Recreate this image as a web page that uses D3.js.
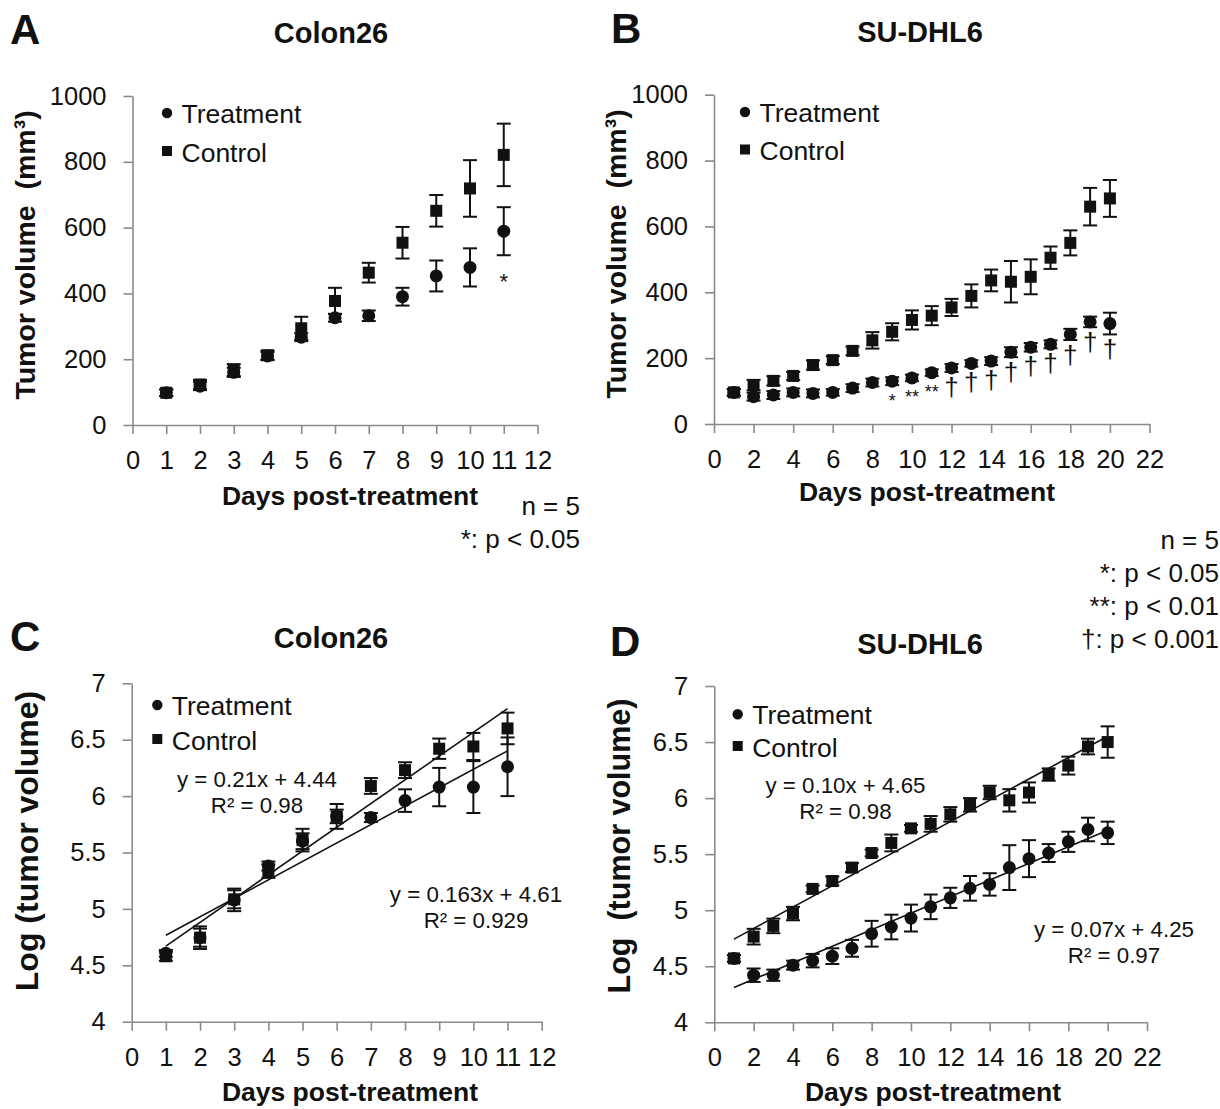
<!DOCTYPE html>
<html><head><meta charset="utf-8">
<script src="https://cdn.jsdelivr.net/npm/d3@7"></script>
<style>
body{margin:0;background:#fff}
svg{display:block}
text{font-family:"Liberation Sans",Arial,Helvetica,sans-serif;fill:#111}
</style>
</head><body>
<svg id="c" width="1220" height="1109"></svg>
<script>
// ---------------- DATA ----------------
// Panel A: Colon26 tumor volume (mm3)
const daysA = [1,2,3,4,5,6,7,8,9,10,11];
const trtA    = [98,118,160,210,267,326,332,390,453,479,589];
const trtAErr = [10,12,14,12,12,12,16,27,47,58,73];
const ctlA    = [98,123,167,212,294,377,463,554,651,719,821];
const ctlAErr = [10,14,18,14,35,40,30,48,48,86,95];
const sigA    = ["","","","","","","","","","","*"];

// Panel B: SU-DHL6 tumor volume (mm3)
const daysB = [1,2,3,4,5,6,7,8,9,10,11,12,13,14,15,16,17,18,19,20];
const trtB    = [96,83,88,96,93,96,109,126,130,140,156,170,184,191,218,233,242,272,310,305];
const trtBErr = [10,12,12,12,12,10,12,12,12,10,10,12,10,12,15,13,12,17,16,33];
const ctlB    = [96,118,131,146,179,194,222,254,280,316,329,354,389,436,432,447,505,550,660,685];
const ctlBErr = [10,16,14,12,14,12,13,25,26,29,29,26,35,33,63,53,34,38,57,56];
const sigB    = ["","","","","","","","","*","**","**","†","†","†","†","†","†","†","†","†"];

// Panel C: Colon26 log(tumor volume)
const daysC = [1,2,3,4,5,6,7,8,9,10,11];
const trtC    = [4.606,4.745,5.08,5.38,5.60,5.82,5.81,5.96,6.08,6.08,6.26];
const trtCErr = [0.03,0.08,0.10,0.04,0.07,0.06,0.04,0.10,0.17,0.23,0.26];
const ctlC    = [4.58,4.745,5.085,5.335,5.61,5.82,6.09,6.23,6.42,6.44,6.60];
const ctlCErr = [0.04,0.10,0.08,0.06,0.10,0.11,0.07,0.07,0.09,0.12,0.14];

// Panel D: SU-DHL6 log(tumor volume)
const daysD = [1,2,3,4,5,6,7,8,9,10,11,12,13,14,15,16,17,18,19,20];
const trtD    = [4.57,4.42,4.42,4.51,4.55,4.59,4.66,4.79,4.85,4.93,5.03,5.11,5.195,5.23,5.38,5.46,5.51,5.61,5.72,5.69];
const trtDErr = [0.03,0.06,0.05,0.04,0.06,0.07,0.075,0.115,0.11,0.12,0.11,0.09,0.11,0.10,0.20,0.165,0.08,0.09,0.105,0.10];
const ctlD    = [4.57,4.764,4.86,4.97,5.19,5.26,5.38,5.51,5.60,5.73,5.77,5.855,5.94,6.05,5.98,6.05,6.21,6.29,6.46,6.50];
const ctlDErr = [0.03,0.07,0.065,0.06,0.03,0.04,0.04,0.03,0.075,0.03,0.07,0.065,0.06,0.06,0.10,0.09,0.055,0.08,0.07,0.14];

// Tick values
const xTicks12 = [0,1,2,3,4,5,6,7,8,9,10,11,12];
const xTicks22 = [0,2,4,6,8,10,12,14,16,18,20,22];
const yTicksVol = [0,200,400,600,800,1000];
const yTicksLog = [4,4.5,5,5.5,6,6.5,7];

// Text
const seriesNames = ["Treatment","Control"];
const fitLabelsC = [["y = 0.163x + 4.61","R² = 0.929"],["y = 0.21x + 4.44","R² = 0.98"]];
const fitLabelsD = [["y = 0.07x + 4.25","R² = 0.97"],["y = 0.10x + 4.65","R² = 0.98"]];
const notesA = ["n = 5","*: p < 0.05"];
const notesB = ["n = 5","*: p < 0.05","**: p < 0.01","†: p < 0.001"];

// ---------------- DRAWING ----------------
const svg = d3.select("#c");
const AXIS = "#8a8a8a";

function linreg(xs, ys){
  const n = xs.length, mx = d3.mean(xs), my = d3.mean(ys);
  let sxy=0, sxx=0;
  for(let i=0;i<n;i++){ sxy += (xs[i]-mx)*(ys[i]-my); sxx += (xs[i]-mx)**2; }
  const b = sxy/sxx; return {b, a: my - b*mx};
}

function panel(cfg){
  const g = svg.append("g");
  const x = d3.scaleLinear().domain(cfg.xDomain).range(cfg.xRange);
  const y = d3.scaleLinear().domain(cfg.yDomain).range(cfg.yRange);

  const xa = g.append("g").attr("transform",`translate(0,${cfg.yRange[0]})`)
    .call(d3.axisBottom(x).tickValues(cfg.xTicks).tickSize(9).tickSizeOuter(0).tickPadding(17).tickFormat(d=>String(d)));
  const ya = g.append("g").attr("transform",`translate(${cfg.xRange[0]},0)`)
    .call(d3.axisLeft(y).tickValues(cfg.yTicks).tickSize(9).tickSizeOuter(0).tickPadding(17).tickFormat(d=>String(d)));
  [xa,ya].forEach(a=>{
    a.select(".domain").attr("stroke",AXIS).attr("stroke-width",1.6);
    a.selectAll(".tick line").attr("stroke",AXIS).attr("stroke-width",1.6);
    a.selectAll(".tick text").attr("font-size",25.5).attr("fill","#111")
      .style("font-family",'"Liberation Sans",Arial,Helvetica,sans-serif');
  });

  // trend lines (least-squares fit of the plotted points)
  if(cfg.fit){
    cfg.series.forEach(s=>{
      const r = linreg(s.x, s.v);
      const x0 = d3.min(s.x), x1 = d3.max(s.x);
      g.append("line").attr("x1",x(x0)).attr("y1",y(r.a+r.b*x0))
        .attr("x2",x(x1)).attr("y2",y(r.a+r.b*x1))
        .attr("stroke","#111").attr("stroke-width",1.6);
    });
  }

  // error bars + markers
  cfg.series.forEach(s=>{
    s.x.forEach((d,i)=>{
      const cx = x(d), lo = y(s.v[i]-s.e[i]), hi = y(s.v[i]+s.e[i]);
      g.append("line").attr("x1",cx).attr("x2",cx).attr("y1",lo).attr("y2",hi)
        .attr("stroke","#111").attr("stroke-width",2);
      [lo,hi].forEach(yy=>g.append("line").attr("x1",cx-7).attr("x2",cx+7).attr("y1",yy).attr("y2",yy)
        .attr("stroke","#111").attr("stroke-width",2));
    });
  });
  cfg.series.forEach(s=>{
    s.x.forEach((d,i)=>{
      const cx = x(d), cy = y(s.v[i]);
      if(s.shape==="circle") g.append("circle").attr("cx",cx).attr("cy",cy).attr("r",6.5).attr("fill","#111");
      else g.append("rect").attr("x",cx-6).attr("y",cy-6).attr("width",12).attr("height",12).attr("fill","#111");
    });
  });

  // significance markers below treatment error bars
  if(cfg.sig){
    const s = cfg.series[0];
    cfg.sig.forEach((m,i)=>{
      if(!m) return;
      const bottom = y(s.v[i]-s.e[i]);
      const dag = m==="†";
      const fs = dag ? 26 : cfg.starSize;
      const center = bottom + (dag ? 16 : cfg.starOff);
      g.append("text").attr("x",x(s.x[i])).attr("y", center + (dag ? 0.30*fs : 0.62*fs))
        .attr("text-anchor","middle").attr("font-size",fs).attr("fill","#111").text(m);
    });
  }

  // legend
  const L = cfg.legend;
  g.append("circle").attr("cx",L.x).attr("cy",L.y1).attr("r",5.2).attr("fill","#111");
  g.append("rect").attr("x",L.x-5).attr("y",L.y2-5).attr("width",10).attr("height",10).attr("fill","#111");
  g.append("text").attr("x",L.x+14.5).attr("y",L.y1+10).attr("font-size",26.5).text(seriesNames[0]);
  g.append("text").attr("x",L.x+14.5).attr("y",L.y2+10.5).attr("font-size",26.5).text(seriesNames[1]);

  // titles
  g.append("text").attr("x",cfg.letter[0]).attr("y",cfg.letter[1]).attr("font-size",42).attr("font-weight","bold").text(cfg.letter[2]);
  g.append("text").attr("x",cfg.title[0]).attr("y",cfg.title[1]).attr("font-size",29).attr("font-weight","bold")
    .attr("text-anchor","middle").text(cfg.title[2]);
  g.append("text").attr("x",cfg.xTitle[0]).attr("y",cfg.xTitle[1]).attr("font-size",26.5).attr("font-weight","bold")
    .attr("text-anchor","middle").text("Days post-treatment");
  g.append("text").attr("transform",`translate(${cfg.yTitle[0]},${cfg.yTitle[1]}) rotate(-90)`)
    .attr("font-size",cfg.yTitleSize).attr("font-weight","bold").attr("text-anchor","middle")
    .style("white-space","pre").attr("xml:space","preserve").text(cfg.yTitle[2]);

  // fit labels
  if(cfg.fitLabels){
    cfg.fitLabels.forEach(fl=>{
      g.append("text").attr("x",fl.x).attr("y",fl.y).attr("font-size",22.3).attr("text-anchor","middle").text(fl.t[0]);
      g.append("text").attr("x",fl.x).attr("y",fl.y+26).attr("font-size",22.3).attr("text-anchor","middle").text(fl.t[1]);
    });
  }
  // notes
  if(cfg.notes){
    cfg.notes.t.forEach((t,i)=>{
      g.append("text").attr("x",cfg.notes.x).attr("y",cfg.notes.y + i*33).attr("font-size",26)
        .attr("text-anchor","end").text(t);
    });
  }
}

panel({
  xDomain:[0,12], xRange:[132.5,537.5], yDomain:[0,1000], yRange:[425,96],
  xTicks:xTicks12, yTicks:yTicksVol,
  series:[{x:daysA,v:trtA,e:trtAErr,shape:"circle"},{x:daysA,v:ctlA,e:ctlAErr,shape:"square"}],
  sig:sigA, starSize:22, starOff:20,
  legend:{x:167,y1:113,y2:151},
  letter:[10,44,"A"], title:[331,43,"Colon26"],
  xTitle:[350,505], yTitle:[35,255,"Tumor volume  (mm³)"], yTitleSize:28.5,
  notes:{x:580,y:515,t:notesA}
});
panel({
  xDomain:[0,22], xRange:[714,1149.5], yDomain:[0,1000], yRange:[424,94.7],
  xTicks:xTicks22, yTicks:yTicksVol,
  series:[{x:daysB,v:trtB,e:trtBErr,shape:"circle"},{x:daysB,v:ctlB,e:ctlBErr,shape:"square"}],
  sig:sigB, starSize:18, starOff:10.5,
  legend:{x:745,y1:112,y2:149.5},
  letter:[611,43,"B"], title:[920,42,"SU-DHL6"],
  xTitle:[927,501], yTitle:[626,254,"Tumor volume  (mm³)"], yTitleSize:28.5,
  notes:{x:1219,y:549,t:notesB}
});
panel({
  xDomain:[0,12], xRange:[131.7,541.7], yDomain:[4,7], yRange:[1021.7,683.3],
  xTicks:xTicks12, yTicks:yTicksLog,
  series:[{x:daysC,v:trtC,e:trtCErr,shape:"circle"},{x:daysC,v:ctlC,e:ctlCErr,shape:"square"}],
  fit:true,
  legend:{x:157.3,y1:705,y2:739},
  letter:[10,651,"C"], title:[331,648,"Colon26"],
  xTitle:[350,1101], yTitle:[38,841,"Log (tumor volume)"], yTitleSize:32,
  fitLabels:[{x:476,y:902,t:fitLabelsC[0]},{x:257,y:787,t:fitLabelsC[1]}]
});
panel({
  xDomain:[0,22], xRange:[714.3,1147], yDomain:[4,7], yRange:[1022.3,686],
  xTicks:xTicks22, yTicks:yTicksLog,
  series:[{x:daysD,v:trtD,e:trtDErr,shape:"circle"},{x:daysD,v:ctlD,e:ctlDErr,shape:"square"}],
  fit:true,
  legend:{x:737.7,y1:714.3,y2:746},
  letter:[610,656,"D"], title:[920,654,"SU-DHL6"],
  xTitle:[933,1101], yTitle:[630,846,"Log  (tumor volume)"], yTitleSize:30.5,
  fitLabels:[{x:1114,y:937,t:fitLabelsD[0]},{x:845.5,y:793,t:fitLabelsD[1]}]
});
</script>
</body></html>
